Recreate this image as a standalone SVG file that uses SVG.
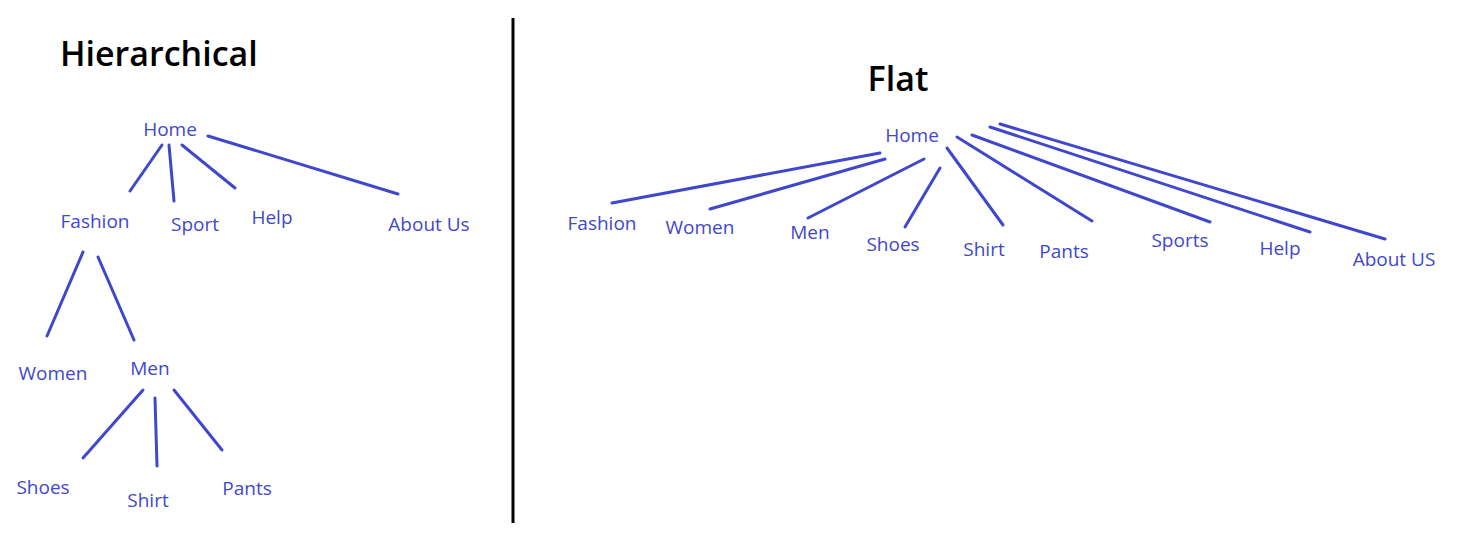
<svg xmlns="http://www.w3.org/2000/svg" width="1459" height="540" viewBox="0 0 1459 540">
<style>
.t{font-family:"Open Sans","Noto Sans",sans-serif;font-size:19px;fill:#3f48cc;text-anchor:middle}
.h{font-family:"Open Sans","Noto Sans",sans-serif;font-size:34px;font-weight:600;fill:#000}
#connectors line{stroke:#3f48cc;stroke-width:3;stroke-linecap:round}
</style>
<rect width="1459" height="540" fill="#fff"/>
<line x1="513" y1="18" x2="513" y2="523" stroke="#000" stroke-width="3"/>
<text class="h" x="60" y="66">Hierarchical</text>
<text class="h" x="898" y="91" text-anchor="middle">Flat</text>
<g id="connectors">
<line x1="162" y1="145" x2="130" y2="191"/>
<line x1="169" y1="145" x2="174" y2="201"/>
<line x1="182" y1="145" x2="235" y2="188"/>
<line x1="208" y1="136" x2="398" y2="194"/>
<line x1="83" y1="252" x2="47" y2="336"/>
<line x1="98" y1="257" x2="134" y2="340"/>
<line x1="143" y1="390" x2="83" y2="458"/>
<line x1="155" y1="398" x2="157" y2="466"/>
<line x1="174" y1="390" x2="222" y2="450"/>
<line x1="880" y1="153" x2="612" y2="203"/>
<line x1="885" y1="159" x2="710" y2="209"/>
<line x1="924" y1="159" x2="808" y2="218"/>
<line x1="940" y1="168" x2="905" y2="227"/>
<line x1="947" y1="148" x2="1003" y2="225"/>
<line x1="957" y1="137" x2="1092" y2="221"/>
<line x1="972" y1="135" x2="1210" y2="222"/>
<line x1="990" y1="127" x2="1310" y2="232"/>
<line x1="1000" y1="124" x2="1385" y2="239"/>
</g>
<g id="h-home"><text class="t" x="170" y="136">Home</text></g>
<g id="h-fashion"><text class="t" x="95" y="228">Fashion</text></g>
<g id="h-sport"><text class="t" x="195" y="231">Sport</text></g>
<g id="h-help"><text class="t" x="272" y="224">Help</text></g>
<g id="h-about"><text class="t" x="429" y="231">About Us</text></g>
<g id="h-women"><text class="t" x="53" y="380">Women</text></g>
<g id="h-men"><text class="t" x="150" y="375">Men</text></g>
<g id="h-shoes"><text class="t" x="43" y="494">Shoes</text></g>
<g id="h-shirt"><text class="t" x="148" y="507">Shirt</text></g>
<g id="h-pants"><text class="t" x="247" y="495">Pants</text></g>
<g id="f-home"><text class="t" x="912" y="142">Home</text></g>
<g id="f-fashion"><text class="t" x="602" y="230">Fashion</text></g>
<g id="f-women"><text class="t" x="700" y="234">Women</text></g>
<g id="f-men"><text class="t" x="810" y="239">Men</text></g>
<g id="f-shoes"><text class="t" x="893" y="251">Shoes</text></g>
<g id="f-shirt"><text class="t" x="984" y="256">Shirt</text></g>
<g id="f-pants"><text class="t" x="1064" y="258">Pants</text></g>
<g id="f-sports"><text class="t" x="1180" y="247">Sports</text></g>
<g id="f-help"><text class="t" x="1280" y="255">Help</text></g>
<g id="f-about"><text class="t" x="1394" y="266">About US</text></g>
</svg>
